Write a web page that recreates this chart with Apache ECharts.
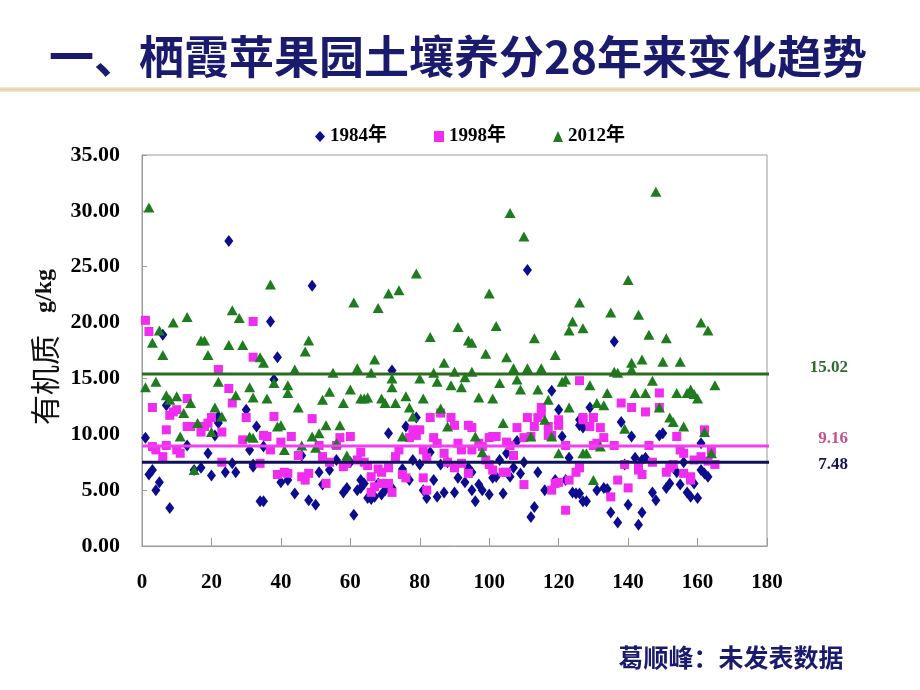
<!DOCTYPE html>
<html><head><meta charset="utf-8">
<script src="https://cdn.jsdelivr.net/npm/echarts/dist/echarts.min.js"></script>
<style>html,body{margin:0;padding:0;background:#fff;}#c{width:920px;height:690px;}</style>
</head><body><div id="c"></div>
<script>
const titleText = '一、栖霞苹果园土壤养分28年来变化趋势';
const footText = '葛顺峰：未发表数据';
const yAxisTitle = ['有机质', 'g/kg'];
const seriesNames = ['1984年', '1998年', '2012年'];

const data1984 = [
[1,9.7],[2,6.4],[3,6.8],[4,5.0],[5,5.7],[6,18.9],[7,12.6],[8,3.4],[13,9.0],[15,6.8],[17,7.0],[19,8.3],[20,6.3],[21,9.9],[22,11.6],[22,11.0],[24,6.6],[25,27.3],[26,7.4],[27,6.6],[30,12.2],[31,8.6],[32,7.3],[33,10.7],
[32,7.1],[34,4.0],[35,4.0],[35,8.9],[37,20.1],[38,14.9],[39,16.9],[40,5.7],[42,5.9],[44,4.7],[46,8.1],[48,4.1],[49,23.3],[50,3.7],[51,6.6],[52,5.5],[54,6.8],[56,7.7],[58,4.8],[59,5.2],[60,7.5],[61,2.8],[62,5.0],[63,5.9],
[63,5.2],[64,5.6],[65,4.3],[66,4.2],[67,4.4],[68,5.6],[69,4.6],[70,5.0],[71,10.1],[72,15.7],[72,5.2],[75,6.9],[76,10.7],[77,5.9],[78,7.7],[79,11.5],[80,7.3],[81,5.0],[82,4.3],[83,8.4],[84,5.9],[85,4.4],[86,7.3],[87,4.8],[88,7.5],[90,4.8],[91,6.1],[93,5.7],[94,7.0],[95,5.0],[96,4.0],
[95,6.6],[97,5.5],[98,5.0],[100,4.6],[101,6.1],[102,6.2],[103,7.7],[104,4.7],[105,8.3],[106,6.2],[107,7.0],[108,9.4],[109,6.5],[110,7.5],[111,24.7],[112,2.6],[113,3.5],[114,6.6],[116,5.0],[118,13.9],[119,5.9],[120,12.2],[121,9.8],[122,5.9],[123,7.9],[124,4.8],[125,4.7],[126,10.8],[127,10.6],[127,4.0],
[126,4.7],[126,11.3],[128,4.0],[129,12.4],[131,5.0],[133,5.2],[134,5.1],[135,3.0],[136,18.3],[137,2.1],[138,11.1],[139,7.3],[140,3.7],[141,9.8],[142,7.9],[143,1.9],[144,3.0],[144,7.7],[145,7.9],[147,4.8],[148,4.1],[149,9.9],[150,10.1],[151,5.2],[152,5.6],[154,6.6],[155,5.5],[156,7.5],[157,4.8],[158,4.4],[159,5.6],[160,4.3],[161,9.2],[161,6.8],[162,6.5],[163,6.2]
];

const data1998 = [
[1,20.2],[2,19.2],[3,12.4],[3,8.9],[4,8.6],[6,8.0],[7,9.0],[7,10.4],[8,11.7],[9,12.0],[10,12.2],[10,8.6],[11,8.3],[13,13.2],[13,10.7],[14,10.7],[17,10.2],[18,10.7],[19,11.0],[20,11.5],[22,15.8],[23,10.2],[23,7.5],[25,14.1],[26,12.8],[29,9.5],[30,11.5],[32,20.1],[32,16.9],
[34,7.4],[35,9.9],[36,9.8],[37,8.6],[38,11.6],[39,6.4],[40,9.3],[41,6.6],[42,6.5],[43,9.8],[45,8.1],[46,6.2],[47,5.9],[48,6.5],[49,11.4],[51,9.0],[52,8.0],[53,5.6],[54,7.5],[56,9.0],[57,9.7],[58,7.1],[59,7.4],[60,9.8],[62,7.7],[63,8.4],
[64,7.5],[65,7.2],[66,6.2],[66,4.8],[67,5.3],[68,6.9],[69,5.6],[69,6.6],[71,7.0],[71,5.6],[72,4.8],[73,8.0],[74,8.6],[75,6.4],[76,6.1],[77,9.7],[78,10.4],[79,9.9],[80,10.4],[81,8.6],[81,6.1],[82,7.9],[82,5.0],[83,11.5],[84,9.7],[85,9.2],[86,11.9],[87,8.3],[88,7.5],[89,11.5],[90,10.8],[90,7.0],[91,9.2],[92,8.6],[92,7.4],[94,10.8],[94,6.5],[95,8.6],
[95,10.6],[97,9.2],[98,8.9],[99,7.7],[100,9.7],[100,7.3],[101,9.8],[101,6.8],[102,9.8],[104,6.6],[105,9.3],[105,6.6],[106,9.0],[107,8.1],[108,10.6],[110,9.7],[110,5.5],[111,11.5],[112,9.8],[113,10.7],[114,11.5],[115,11.9],[115,12.4],[117,10.7],[117,9.9],[118,9.9],[118,5.0],[119,5.6],[120,11.3],[120,10.8],[120,5.7],[122,9.0],[122,3.2],[123,5.9],[125,6.6],[126,14.8],[127,11.3],
[126,7.0],[127,11.5],[129,10.7],[130,11.5],[130,9.0],[131,9.2],[132,10.6],[133,9.7],[135,4.4],[136,9.0],[137,5.9],[138,12.8],[139,7.3],[140,5.2],[141,12.4],[143,7.1],[143,6.8],[144,6.4],[145,12.0],[146,9.0],[147,7.5],[149,13.7],[149,12.4],[151,6.6],[152,7.0],[153,7.3],[154,9.8],[155,8.6],[156,8.3],[156,6.5],[158,6.2],[158,5.9],[159,7.7],[161,8.0],[162,10.4],[163,7.6],[164,8.5],[165,7.3]
];

const data2012 = [
[1,14.2],[2,30.3],[3,18.2],[4,14.7],[5,19.3],[6,17.1],[7,13.5],[8,13.1],[9,20.0],[10,13.4],[11,9.8],[12,11.9],[13,20.5],[14,12.8],[15,6.8],[16,11.0],[17,18.4],[18,18.4],[19,17.1],[20,10.2],[21,12.4],[22,14.7],[23,11.6],[25,18.0],[26,21.1],[27,13.5],[28,20.4],[29,18.0],[31,14.2],[32,9.7],
[31,9.8],[32,13.3],[34,16.9],[35,16.4],[36,13.2],[37,23.4],[38,14.6],[39,10.7],[40,10.8],[41,8.6],[42,14.4],[42,13.7],[44,15.8],[45,12.4],[46,9.0],[47,17.4],[48,18.4],[49,9.8],[50,8.8],[51,10.1],[52,13.1],[53,10.8],[54,13.8],[55,15.5],[56,9.2],[57,10.8],[58,12.8],[59,8.1],[60,14.0],[61,21.8],[62,15.9],[63,13.2],
[64,13.2],[65,13.3],[66,15.5],[67,16.7],[68,21.3],[69,13.2],[70,12.8],[71,22.6],[72,14.2],[72,15.0],[73,12.8],[74,22.9],[75,9.8],[76,13.4],[77,12.4],[78,11.6],[79,24.4],[80,15.0],[81,13.2],[83,18.7],[84,15.5],[85,14.7],[86,12.3],[87,16.4],[88,10.7],[89,14.4],[90,15.6],[91,19.6],[92,14.2],[93,15.1],[94,18.4],[95,15.6],
[95,18.2],[96,9.8],[97,13.3],[98,8.4],[99,17.2],[100,22.6],[101,13.2],[102,19.7],[103,14.6],[104,11.0],[105,16.9],[106,29.8],[107,15.9],[108,14.9],[109,14.0],[110,27.7],[111,15.9],[112,9.8],[113,18.6],[114,14.0],[115,15.9],[116,11.3],[117,13.1],[118,9.8],[119,17.1],[120,8.3],[121,14.7],[122,14.9],[123,12.4],[123,19.3],[124,20.1],[126,21.8],[127,19.5],[127,8.3],
[128,8.3],[129,14.4],[130,5.9],[131,12.8],[132,8.9],[133,12.6],[134,13.7],[135,20.9],[136,15.6],[137,15.5],[139,10.5],[140,23.8],[141,16.4],[141,15.8],[142,13.7],[143,20.7],[144,16.7],[145,13.7],[146,18.9],[147,14.8],[148,31.7],[149,12.4],[150,16.5],[151,18.6],[152,11.5],[153,11.1],[154,13.7],[155,16.5],[156,10.7],[157,13.7],[158,14.0],[159,13.6],[160,13.2],[161,20.0],[162,10.2],[163,19.3],[164,8.3],[165,14.4]
];

// mean lines: drawn level and printed label
const meanLevels = [7.5, 8.95, 15.4];
const meanLabels = ['7.48', '9.16', '15.02'];
const meanSpan = [0, 189.5];

const xMin = 0, xMax = 180, xStep = 20;
const yMin = 0, yMax = 35, yStep = 5;

const markerColors = ['#0c0c8e', '#f02cf0', '#1e7b1e'];
const lineColors = ['#10105c', '#f040f0', '#2c6c20'];
const labelColors = ['#141450', '#c8508a', '#2e6b2e'];
const labelDy = [2, -7, -6];

const serif = '"Liberation Serif","Noto Sans CJK SC",serif';
const chart = echarts.init(document.getElementById('c'), null, {renderer: 'canvas'});

const scatterData = [data1984, data1998, data2012];
const symbols = ['diamond', 'rect', 'triangle'];
const symbolSizes = [[9, 12], [9, 9], [11, 10]];

const series = [];
scatterData.forEach((d, i) => {
  series.push({
    name: seriesNames[i], type: 'scatter', data: d,
    symbol: symbols[i], symbolSize: symbolSizes[i],
    itemStyle: {color: markerColors[i], opacity: 1},
    z: 2 + i
  });
});
meanLevels.forEach((v, i) => {
  series.push({
    name: 'mean' + i, type: 'line', clip: false,
    data: [[meanSpan[0], v], [meanSpan[1], v]],
    symbol: 'none', lineStyle: {color: lineColors[i], width: 3},
    z: 10, silent: true
  });
});

chart.setOption({
  animation: false,
  backgroundColor: '#ffffff',
  grid: {left: 142, right: 153, top: 155, bottom: 144, show: true, borderColor: '#9a9a9a', borderWidth: 1},
  legend: {
    data: seriesNames, left: 310, top: 122, itemWidth: 10, itemHeight: 11, itemGap: 47,
    textStyle: {fontFamily: serif, fontWeight: 'bold', fontSize: 19, color: '#000'}
  },
  xAxis: {
    type: 'value', min: xMin, max: xMax, interval: xStep,
    axisLine: {show: true, lineStyle: {color: '#9a9a9a'}},
    axisTick: {show: true, inside: true, length: 8, lineStyle: {color: '#9a9a9a'}},
    splitLine: {show: false},
    axisLabel: {margin: 26, fontFamily: serif, fontWeight: 'bold', fontSize: 21, color: '#000'}
  },
  yAxis: {
    type: 'value', min: yMin, max: yMax, interval: yStep,
    axisLine: {show: true, lineStyle: {color: '#9a9a9a'}},
    axisTick: {show: true, inside: true, length: 5, lineStyle: {color: '#9a9a9a'}},
    splitLine: {show: false},
    axisLabel: {margin: 22, fontFamily: serif, fontWeight: 'bold', fontSize: 22, color: '#000',
      formatter: v => v.toFixed(2)}
  },
  series: series
});

const graphics = [
  {type: 'rect', shape: {x: 0, y: 87, width: 920, height: 5}, style: {fill: new echarts.graphic.LinearGradient(0, 0, 0, 1, [{offset: 0, color: '#f6eedb'}, {offset: 0.5, color: '#e2d2aa'}, {offset: 1, color: '#f4ead2'}])}, z: 1},
  {type: 'text', x: 458, y: 57, style: {text: titleText, font: 'bold 45px "Noto Sans CJK SC"', fill: '#1b1b6e', textAlign: 'center', textVerticalAlign: 'middle', shadowColor: 'rgba(0,0,0,0.35)', shadowOffsetX: 2, shadowOffsetY: 2, shadowBlur: 1}, z: 5},
  {type: 'text', x: 731, y: 657, style: {text: footText, font: 'bold 25px "Noto Sans CJK SC"', fill: '#1b1b6e', textAlign: 'center', textVerticalAlign: 'middle', shadowColor: 'rgba(0,0,0,0.3)', shadowOffsetX: 1, shadowOffsetY: 1, shadowBlur: 1}, z: 5},
  {type: 'text', x: 45, y: 347, rotation: Math.PI / 2, style: {
    text: '{a|' + yAxisTitle[0] + '}{s|}{b|' + yAxisTitle[1] + '}',
    textAlign: 'center', textVerticalAlign: 'middle',
    rich: {a: {fontFamily: '"Noto Sans CJK SC"', fontSize: 30, fill: '#111', fontWeight: 'normal'},
           s: {width: 22},
           b: {fontFamily: serif, fontSize: 24, fontWeight: 'bold', fill: '#111'}}
  }, z: 5}
];
meanLevels.forEach((v, i) => {
  const p = chart.convertToPixel({gridIndex: 0}, [meanSpan[1], v]);
  graphics.push({type: 'text', x: p[0] + 48, y: p[1] + labelDy[i], style: {
    text: meanLabels[i], font: 'bold 17px ' + serif, fill: labelColors[i], textAlign: 'right', textVerticalAlign: 'middle'}, z: 20});
});
chart.setOption({graphic: graphics});
</script></body></html>
